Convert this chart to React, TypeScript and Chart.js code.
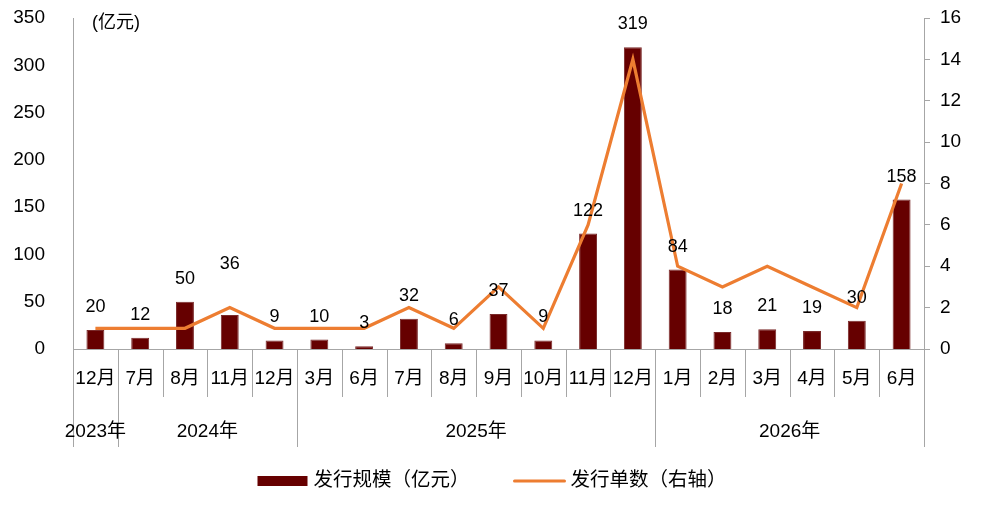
import React, { useEffect, useRef } from 'react';
import { Chart, registerables } from 'chart.js';

Chart.register(...registerables);

// monthly categories, grouped by year on a second label row
const months = ['12月', '7月', '8月', '11月', '12月', '3月', '6月', '7月', '8月', '9月', '10月', '11月', '12月', '1月', '2月', '3月', '4月', '5月', '6月'];
const yearLabels = ['2023年', '2024年', '2025年', '2026年'];
const yearCounts = [1, 4, 8, 6];

// 发行规模 (亿元) and 发行单数
const issueSize = [20, 12, 50, 36, 9, 10, 3, 32, 6, 37, 9, 122, 319, 84, 18, 21, 19, 30, 158];
const issueCount = [1, 1, 1, 2, 1, 1, 1, 2, 1, 3, 1, 6, 14, 4, 3, 4, 3, 2, 8];

const BAR = '#660000';
const LINE = '#ED7D31';
const AXIS = '#a6a6a6';
const NUM_FONT = '"Liberation Sans", Arial, sans-serif';
const CJK_FONT = '"Liberation Sans", "Noto Sans CJK SC", sans-serif';

const groupedAxis = {
  id: 'groupedAxis',
  afterDraw(chart: any) {
    const { ctx, chartArea, scales } = chart;
    const x = scales.x;
    const n = months.length;
    const half = (x.getPixelForValue(1) - x.getPixelForValue(0)) / 2;
    const edge = (i: number) => Math.round(i < n ? x.getPixelForValue(i) - half : x.getPixelForValue(n - 1) + half) + 0.5;
    const base = chartArea.bottom;

    // year boundaries get the long separators
    const bounds = [0];
    yearCounts.forEach((c) => bounds.push(bounds[bounds.length - 1] + c));

    ctx.save();
    ctx.strokeStyle = AXIS;
    ctx.lineWidth = 1;
    for (let i = 0; i <= n; i++) {
      const px = edge(i);
      ctx.beginPath();
      ctx.moveTo(px, base);
      ctx.lineTo(px, bounds.includes(i) ? base + 98 : base + 48);
      ctx.stroke();
    }

    ctx.fillStyle = '#000';
    ctx.textAlign = 'center';
    ctx.textBaseline = 'middle';
    ctx.font = `19px ${CJK_FONT}`;
    months.forEach((m, i) => ctx.fillText(m, x.getPixelForValue(i), base + 30));
    yearLabels.forEach((y, k) => {
      const mid = (x.getPixelForValue(bounds[k]) + x.getPixelForValue(bounds[k + 1] - 1)) / 2;
      ctx.fillText(y, mid, base + 83);
    });

    // value labels above bars
    const raise: Record<number, number> = { 3: 28 };
    ctx.font = `18px ${NUM_FONT}`;
    chart.getDatasetMeta(0).data.forEach((bar: any, i: number) => {
      ctx.fillText(String(issueSize[i]), bar.x, bar.y - 23 - (raise[i] || 0));
    });

    // unit label
    ctx.textAlign = 'left';
    ctx.font = `18px ${CJK_FONT}`;
    ctx.fillText('(亿元)', chartArea.left + 19, chartArea.top + 5);

    // legend
    const ly = 481;
    ctx.font = `19.5px ${CJK_FONT}`;
    const t1 = '发行规模（亿元）';
    const t2 = '发行单数（右轴）';
    const sw = 50;
    const gap = 6;
    const between = 45;
    const total = sw + gap + ctx.measureText(t1).width + between + sw + gap + ctx.measureText(t2).width;
    let lx = chart.width / 2 - total / 2;
    ctx.fillStyle = BAR;
    ctx.fillRect(lx, ly - 5, sw, 10);
    lx += sw + gap;
    ctx.fillStyle = '#000';
    ctx.fillText(t1, lx, ly);
    lx += ctx.measureText(t1).width + between;
    ctx.strokeStyle = LINE;
    ctx.lineWidth = 3;
    ctx.lineCap = 'round';
    ctx.beginPath();
    ctx.moveTo(lx, ly);
    ctx.lineTo(lx + sw, ly);
    ctx.stroke();
    lx += sw + gap;
    ctx.fillText(t2, lx, ly);
    ctx.restore();
  },
};

const App: React.FC = () => {
  const canvasRef = useRef<HTMLCanvasElement | null>(null);
  const chartRef = useRef<Chart | null>(null);

  useEffect(() => {
    if (!canvasRef.current) return;
    if (chartRef.current) chartRef.current.destroy();

    chartRef.current = new Chart(canvasRef.current, {
      type: 'bar',
      data: {
        labels: months,
        datasets: [
          {
            type: 'bar',
            label: '发行规模（亿元）',
            data: issueSize,
            backgroundColor: BAR,
            borderColor: '#7a2a2a',
            borderWidth: 1,
            categoryPercentage: 1,
            barPercentage: 0.4,
            yAxisID: 'y',
            order: 2,
          },
          {
            type: 'line',
            label: '发行单数（右轴）',
            data: issueCount,
            borderColor: LINE,
            backgroundColor: LINE,
            borderWidth: 3.2,
            pointRadius: 0,
            tension: 0,
            fill: false,
            yAxisID: 'y1',
            order: 1,
          } as any,
        ],
      },
      options: {
        animation: false,
        responsive: true,
        maintainAspectRatio: false,
        layout: { padding: { top: 18, left: 0, right: 0, bottom: 0 } },
        plugins: {
          legend: { display: false },
          tooltip: { enabled: false },
        },
        scales: {
          x: {
            grid: { display: false },
            border: { color: AXIS },
            ticks: { display: false },
            afterFit: (s: any) => {
              s.height = 159;
              s.paddingLeft = 0;
              s.paddingRight = 0;
            },
          },
          y: {
            position: 'left',
            min: 0,
            max: 350,
            grid: { display: false },
            border: { color: AXIS },
            ticks: {
              stepSize: 50,
              padding: 20,
              color: '#000',
              font: { family: NUM_FONT, size: 19 },
            },
            afterFit: (s: any) => {
              s.width = 73;
              s.paddingTop = 0;
              s.paddingBottom = 0;
            },
          },
          y1: {
            position: 'right',
            min: 0,
            max: 16,
            grid: { display: true, drawOnChartArea: false, tickLength: 6, color: AXIS },
            border: { color: AXIS },
            ticks: {
              stepSize: 2,
              padding: 10,
              color: '#000',
              font: { family: NUM_FONT, size: 19 },
            },
            afterFit: (s: any) => {
              s.width = 60;
              s.paddingTop = 0;
              s.paddingBottom = 0;
            },
          },
        },
      },
      plugins: [groupedAxis],
    });

    return () => {
      if (chartRef.current) {
        chartRef.current.destroy();
        chartRef.current = null;
      }
    };
  }, []);

  return (
    <div style={{ position: 'fixed', left: 0, top: 0, width: 984, height: 508, background: '#fff' }}>
      <canvas ref={canvasRef} />
    </div>
  );
};

export default App;
